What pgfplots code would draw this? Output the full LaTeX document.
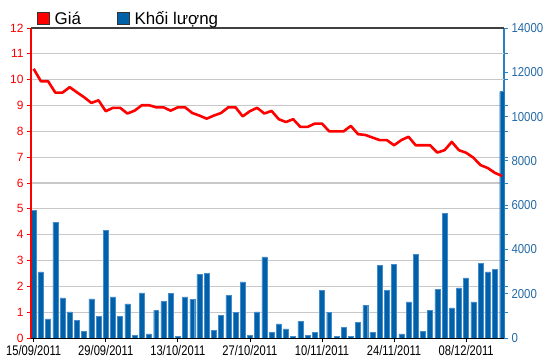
\documentclass[border=0pt]{standalone}
\usepackage{pgfplots}
\usepackage{pgfplotstable}
\pgfplotsset{compat=1.18}
\usepackage{fontspec}
\setmainfont{Liberation Sans}
\newfontfamily\xfont{Liberation Sans}[FakeStretch=0.8]
\newfontfamily\rfont{Liberation Sans}[FakeStretch=0.88]
\definecolor{volblue}{RGB}{0,96,168}
\definecolor{voledge}{RGB}{70,140,205}
\definecolor{raxis}{RGB}{40,130,195}
\definecolor{rlabel}{RGB}{35,105,165}
\definecolor{gridgray}{RGB}{200,200,200}
\definecolor{pricered}{RGB}{255,0,0}

\pgfplotstableread{
x vol
0 5760
1 2987
2 860
3 5231
4 1810
5 1177
6 797
7 300
8 1765
9 964
10 4855
11 1855
12 964
13 1538
14 118
15 2036
16 181
17 1250
18 1643
19 2020
20 60
21 1855
22 1748
23 2865
24 2925
25 345
26 1024
27 1915
28 1145
29 2534
30 104
31 1177
32 3665
33 253
34 633
35 407
36 60
37 738
38 118
39 240
40 2140
41 1158
42 60
43 466
44 60
45 692
46 1475
47 240
48 3272
49 2140
50 3317
51 181
52 1629
53 3769
54 285
55 1235
56 2186
57 5625
58 1357
59 2262
60 2715
61 1629
62 3362
63 2986
64 3104
65 11131
}\voltable

\pgfplotstableread{
x price
0 10.42
1 9.94
2 9.94
3 9.5
4 9.5
5 9.71
6 9.51
7 9.32
8 9.1
9 9.2
10 8.78
11 8.91
12 8.91
13 8.69
14 8.8
15 9.01
16 9.01
17 8.93
18 8.93
19 8.8
20 8.93
21 8.93
22 8.71
23 8.61
24 8.49
25 8.61
26 8.71
27 8.93
28 8.93
29 8.58
30 8.78
31 8.91
32 8.69
33 8.79
34 8.47
35 8.36
36 8.47
37 8.17
38 8.17
39 8.3
40 8.3
41 8.0
42 8.0
43 8.0
44 8.21
45 7.89
46 7.86
47 7.76
48 7.66
49 7.66
50 7.46
51 7.66
52 7.79
53 7.46
54 7.46
55 7.46
56 7.18
57 7.27
58 7.59
59 7.27
60 7.17
61 6.98
62 6.69
63 6.58
64 6.39
65 6.27
}\pricetable

\begin{document}
\begin{tikzpicture}
\begin{axis}[
  name=vol,
  width=473bp, height=310bp, scale only axis,
  xmin=-0.37, xmax=65.25, ymin=0, ymax=14000,
  axis x line=none,
  axis y line*=right,
  y axis line style={draw=raxis, line width=1.3bp, -},
  ytick={0,2000,...,14000},
  scaled y ticks=false,
  ytick style={draw=raxis, line width=0.8bp},
  yticklabel style={font=\rfont\fontsize{13}{13}\selectfont, text=rlabel},
  tick align=outside, major tick length=4bp,
  /pgf/number format/1000 sep={},
  /pgf/number format/assume math mode=true,
  extra y ticks={1166.667,2333.333,3500,4666.667,5833.333,7000,8166.667,9333.333,10500,11666.667,12833.333},
  extra y tick labels={},
  extra y tick style={grid=major, tick style={draw=none}, major grid style={draw=gridgray, line width=1.2bp}},
]
\addplot[ybar, bar width=0.69, fill=volblue, draw=voledge, line width=0.4bp] table[x=x,y=vol]{\voltable};
\end{axis}

\begin{axis}[
  width=473bp, height=310bp, scale only axis,
  xmin=-0.37, xmax=65.25, ymin=0, ymax=12,
  axis x line*=bottom, axis y line*=left,
  x axis line style={draw=black, line width=1bp, -},
  y axis line style={draw=pricered, line width=1.3bp, -},
  xtick={0,10,...,60},
  xticklabels={15/09/2011,29/09/2011,13/10/2011,27/10/2011,10/11/2011,24/11/2011,08/12/2011},
  ytick={0,1,...,12},
  tick align=outside, major tick length=4bp,
  xtick style={draw=black, line width=0.8bp},
  ytick style={draw=pricered, line width=0.8bp},
  yticklabel style={font=\fontsize{12}{12}\selectfont, text=pricered},
  xticklabel style={font=\xfont\fontsize{14}{14}\selectfont, text=black},
  /pgf/number format/assume math mode=true,
  legend style={at={(0,1)}, anchor=south west, xshift=6bp, yshift=0bp, draw=none, fill=none, inner sep=0pt,
    font=\fontsize{17}{17}\selectfont, /tikz/every even column/.append style={column sep=34bp}},
  legend columns=2,
  legend image code/.code={\draw[#1,draw=black!80,line width=0.6bp] (0bp,-6bp) rectangle (12bp,6bp); \path (15bp,0bp);},
  after end axis/.code={\draw[draw=black!75, line width=1.3bp] (rel axis cs:0,1) -- (rel axis cs:1,1);},
]
\addlegendimage{fill=pricered}
\addlegendentry{Giá}
\addlegendimage{fill=volblue}
\addlegendentry{Khối lượng}
\addplot[pricered, line width=2.6bp, line join=round, forget plot] table[x=x,y=price]{\pricetable};
\end{axis}
\pgfresetboundingbox
\path[use as bounding box] ([xshift=-31bp,yshift=-26bp]vol.south west) rectangle ([xshift=46bp,yshift=28bp]vol.north east);
\end{tikzpicture}
\end{document}
